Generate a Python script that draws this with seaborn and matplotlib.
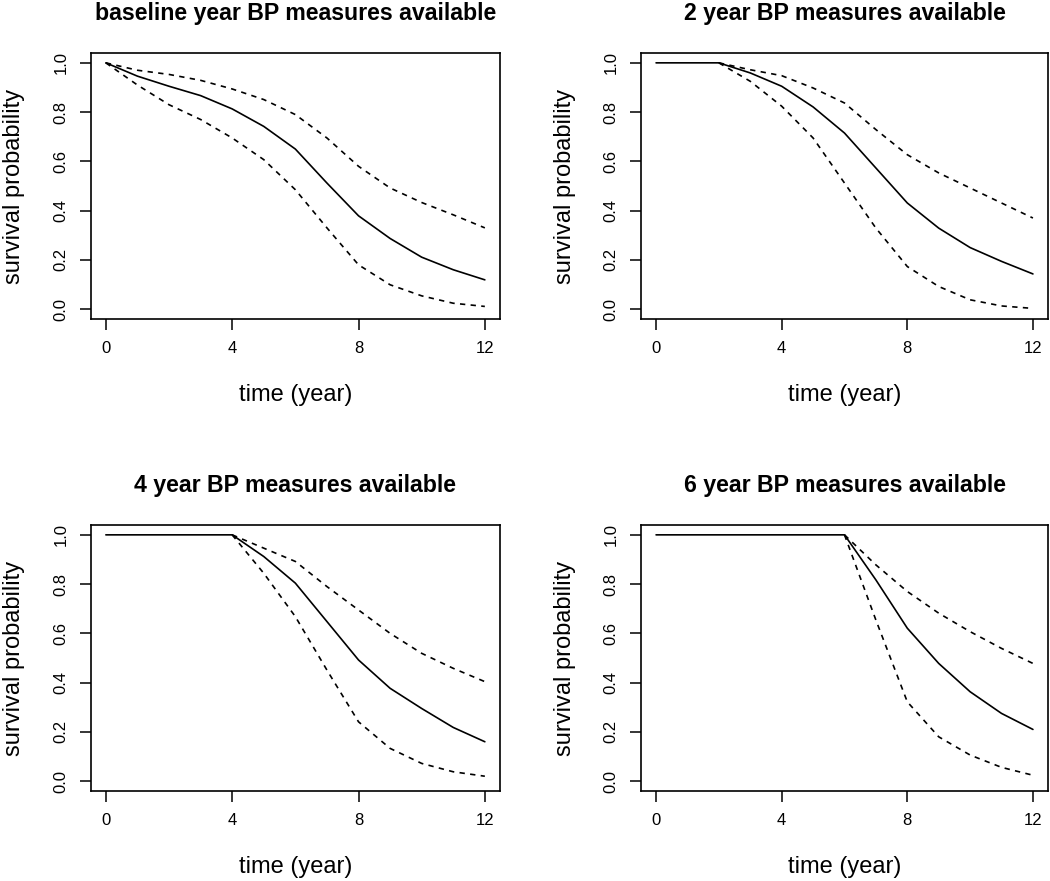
import numpy as np
import pandas as pd
import matplotlib
matplotlib.use("Agg")
import matplotlib.pyplot as plt
import seaborn as sns

# ---- data ----
years = list(range(0, 13))

titles = ["baseline year BP measures available",
          "2 year BP measures available",
          "4 year BP measures available",
          "6 year BP measures available"]
landmarks = [0, 2, 4, 6]

est_0 = [1.0, 0.946, 0.905, 0.867, 0.813, 0.742, 0.650, 0.512, 0.379, 0.287, 0.211, 0.160, 0.119]
upr_0 = [1.0, 0.970, 0.953, 0.929, 0.894, 0.851, 0.790, 0.695, 0.580, 0.492, 0.433, 0.383, 0.330]
lwr_0 = [1.0, 0.910, 0.830, 0.770, 0.695, 0.607, 0.485, 0.330, 0.180, 0.099, 0.054, 0.024, 0.011]

est_2 = [1.0, 1.0, 1.0, 0.959, 0.905, 0.821, 0.715, 0.573, 0.431, 0.329, 0.250, 0.194, 0.143]
upr_2 = [1.0, 0.972, 0.948, 0.898, 0.837, 0.729, 0.627, 0.553, 0.492, 0.431, 0.370]
lwr_2 = [1.0, 0.925, 0.824, 0.695, 0.512, 0.329, 0.173, 0.092, 0.038, 0.013, 0.003]

est_4 = [1.0, 1.0, 1.0, 1.0, 1.0, 0.912, 0.804, 0.648, 0.492, 0.377, 0.295, 0.218, 0.160]
upr_4 = [1.0, 0.946, 0.892, 0.790, 0.695, 0.600, 0.519, 0.458, 0.404]
lwr_4 = [1.0, 0.844, 0.668, 0.451, 0.241, 0.133, 0.072, 0.038, 0.020]

est_6 = [1.0, 1.0, 1.0, 1.0, 1.0, 1.0, 1.0, 0.817, 0.621, 0.478, 0.363, 0.275, 0.210]
upr_6 = [1.0, 0.878, 0.770, 0.682, 0.607, 0.539, 0.478]
lwr_6 = [1.0, 0.654, 0.322, 0.180, 0.106, 0.056, 0.024]

x_ticks = [0, 4, 8, 12]
y_ticks = [0.0, 0.2, 0.4, 0.6, 0.8, 1.0]
x_label = "time (year)"
y_label = "survival probability"

ests = [est_0, est_2, est_4, est_6]
uprs = [upr_0, upr_2, upr_4, upr_6]
lwrs = [lwr_0, lwr_2, lwr_4, lwr_6]

# ---- style ----
sns.set_style("ticks")
plt.rcParams['font.family'] = ['Liberation Sans', 'DejaVu Sans']
plt.rcParams.update({"text.color": "black", "axes.labelcolor": "black",
                     "xtick.color": "black", "ytick.color": "black",
                     "axes.edgecolor": "black"})

fig = plt.figure(figsize=(10.5, 8.81), dpi=100)
W, H = 1050, 881
boxes = [(90.7, 500, 53, 319), (641, 1048, 53, 319),
         (90.7, 500, 525, 791), (641, 1048, 525, 791)]

for i in range(4):
    l, r, t, b = boxes[i]
    ax = fig.add_axes([l / W, 1 - b / H, (r - l) / W, (b - t) / H])
    lm = landmarks[i]
    band_years = years[lm:]
    df_est = pd.DataFrame({"time": years, "surv": ests[i]})
    df_up = pd.DataFrame({"time": band_years, "surv": uprs[i]})
    df_lo = pd.DataFrame({"time": band_years, "surv": lwrs[i]})
    sns.lineplot(data=df_est, x="time", y="surv", ax=ax, color="black", lw=1.2)
    for d in (df_up, df_lo):
        sns.lineplot(data=d, x="time", y="surv", ax=ax, color="black", lw=1.2,
                     linestyle=(0, (3.2, 3.2)))
    ax.set_xlim(-0.48, 12.48)
    ax.set_ylim(-0.04, 1.04)
    ax.set_xticks(x_ticks)
    ax.set_xticklabels([str(v) for v in x_ticks])
    ax.set_yticks(y_ticks)
    ax.set_yticklabels([f"{v:.1f}" for v in y_ticks], rotation=90, va="center")
    ax.tick_params(axis="both", length=8, width=1.1, labelsize=12, pad=8,
                   color="black", labelcolor="black")
    for s in ax.spines.values():
        s.set_visible(True)
        s.set_linewidth(1.2)
        s.set_color("black")
    ax.set_xlabel(x_label, fontsize=17, color="black")
    ax.set_ylabel(y_label, fontsize=17, color="black")
    ax.xaxis.set_label_coords(0.5, -0.245)
    ax.yaxis.set_label_coords(-0.16, 0.5)
    ax.set_title(titles[i], fontsize=16.7, fontweight="bold", pad=24, color="black")

fig.savefig("out.png", dpi=100)
